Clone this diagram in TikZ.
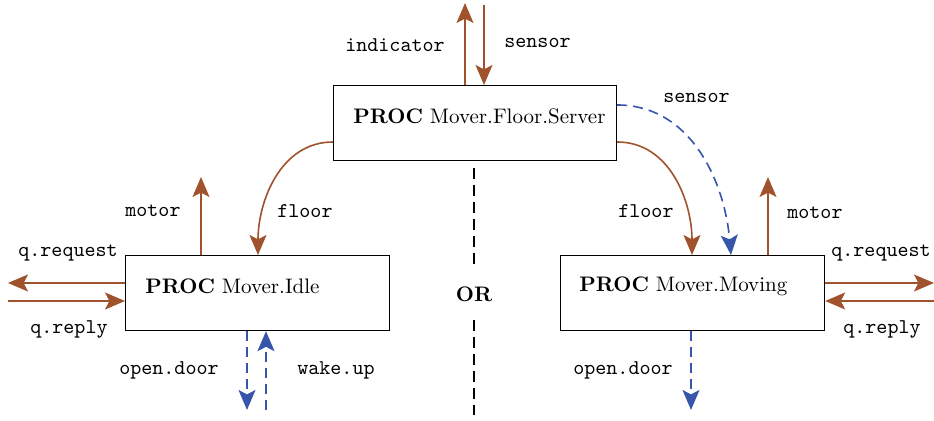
\documentclass[tikz,border=0pt]{standalone}
\usetikzlibrary{arrows.meta}
\definecolor{chanbrown}{RGB}{160,82,45}
\definecolor{chanblue}{RGB}{55,85,170}
\begin{document}
\begin{tikzpicture}[x=0.5pt,y=-0.5pt,
  every node/.style={font=\fontsize{10.5}{12}\selectfont},
  procbox/.style={draw, line width=0.6pt, inner sep=0pt, anchor=north west,
                  minimum width=#1, minimum height=37.5pt},
  proclbl/.style={anchor=west, inner sep=0pt},
  lbl/.style={font=\fontsize{10.5}{12}\selectfont\ttfamily, inner sep=0pt},
  tip/.style={-{Stealth[length=10pt,width=8.5pt,inset=2.2pt]}},
  bra/.style={tip, draw=chanbrown, line width=0.8pt},
  bla/.style={tip, draw=chanblue, line width=0.8pt,
              dash pattern=on 5pt off 3pt},
  sep/.style={line width=1.4pt, dash pattern=on 5.5pt off 3pt},
]
\useasboundingbox (0,0) rectangle (934,421);

% processes
\node[procbox=141.5pt] (srv) at (333,85) {};
\node[procbox=132pt] (idle) at (125,255) {};
\node[procbox=132pt] (mov) at (560,255) {};
\node[proclbl] (srvl) at (353,116) {\textbf{PROC} Mover.Floor.Server};
\node[proclbl] (idlel) at (145,286) {\textbf{PROC} Mover.Idle};
\node[proclbl] (movl) at (579,286) {\textbf{PROC} Mover.Moving};

% free ends of the external channels
\coordinate (indE) at (465,3);
\coordinate (senS) at (484,5);
\coordinate (motL) at (201,177);
\coordinate (motR) at (768,177);
\coordinate (reqL) at (8,283);
\coordinate (repL) at (8,301);
\coordinate (reqR) at (934,283);
\coordinate (repR) at (934,301);
\coordinate (odL) at (247,410);
\coordinate (wuL) at (266,410);
\coordinate (odR) at (691,410);

% server channels
\draw[bra] (srv.north -| indE) -- (indE);
\draw[bra] (senS) -- (srv.north -| senS);
\node[lbl, anchor=east] (indl) at (445,45) {indicator};
\node[lbl, anchor=west] (senl) at (504,43) {sensor};

\draw[bra] (srv.west |- 0,142) to[out=180,in=90] (idle.north -| 258,0);
\draw[bra] (srv.east |- 0,142) to[out=0,in=90] (mov.north -| 692,0);
\draw[bla] (srv.east |- 0,105) to[out=0,in=95] (mov.north -| 731,0);
\node[lbl, anchor=west] (fll) at (277,211) {floor};
\node[lbl, anchor=west] (flr) at (618,211) {floor};
\node[lbl, anchor=west] (sen2) at (663,98) {sensor};

% idle channels
\draw[bra] (idle.north -| motL) -- (motL);
\node[lbl, anchor=west] (motll) at (125,211) {motor};
\draw[bra] (idle.west |- reqL) -- (reqL);
\draw[bra] (repL) -- (idle.west |- repL);
\node[lbl, anchor=west] (reqll) at (18,253) {q.request};
\node[lbl, anchor=west] (repll) at (30,329) {q.reply};
\draw[bla] (idle.south -| odL) -- (odL);
\draw[bla] (wuL) -- (idle.south -| wuL);
\node[lbl, anchor=east] (odll) at (219,370) {open.door};
\node[lbl, anchor=west] (wul) at (297,370) {wake.up};

% moving channels
\draw[bra] (mov.north -| motR) -- (motR);
\node[lbl, anchor=west] (motrl) at (787,213) {motor};
\draw[bra] (mov.east |- reqR) -- (reqR);
\draw[bra] (repR) -- (mov.east |- repR);
\node[lbl, anchor=west] (reqrl) at (831,253) {q.request};
\node[lbl, anchor=west] (reprl) at (843,329) {q.reply};
\draw[bla] (mov.south -| odR) -- (odR);
\node[lbl, anchor=east] (odrl) at (673,370) {open.door};

% alternative separator
\node[inner sep=1pt] (or) at (474,294) {\textbf{OR}};
\coordinate (orTop) at (474,168);
\coordinate (orBot) at (474,415);
\draw[sep] (orTop) -- (474,265);
\draw[sep] (474,320) -- (orBot);
\end{tikzpicture}
\end{document}
